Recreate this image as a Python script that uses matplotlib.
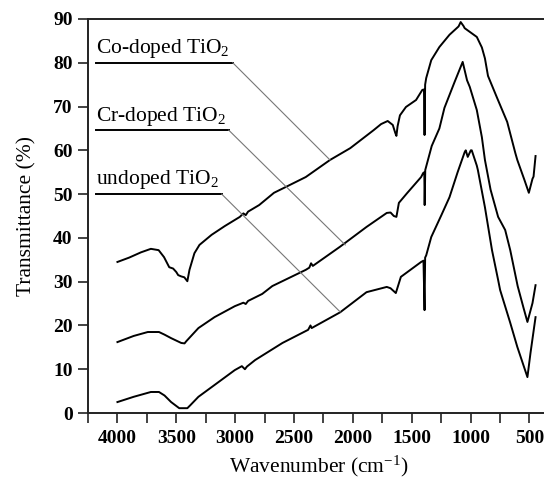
import matplotlib
matplotlib.use("Agg")
import matplotlib.pyplot as plt
from matplotlib.ticker import MultipleLocator

plt.rcParams['font.family'] = ['Liberation Serif', 'DejaVu Serif']
plt.rcParams['mathtext.fontset'] = 'custom'
plt.rcParams['mathtext.rm'] = 'Liberation Serif'
plt.rcParams['mathtext.it'] = 'Liberation Serif:italic'
plt.rcParams['mathtext.bf'] = 'Liberation Serif:bold'

# ---- data ----
co_x = [4000, 3900, 3800, 3716, 3650, 3604, 3560, 3527, 3500, 3484, 3458, 3432, 3406, 3388,
        3346, 3303, 3200, 3088, 2960, 2930, 2910, 2890, 2796, 2670, 2572, 2400, 2194, 2022,
        1824, 1760, 1704, 1661, 1640, 1630, 1620, 1600, 1549, 1463, 1410, 1396, 1391, 1386,
        1377, 1334, 1265, 1179, 1102, 1084, 1060, 1050, 947, 904, 878, 852, 775, 689, 620,
        603, 542, 505, 474, 465, 448]
co_y = [34.5, 35.5, 36.7, 37.5, 37.2, 35.6, 33.3, 33.0, 32.2, 31.5, 31.2, 31.0, 30.1, 32.7,
        36.5, 38.4, 40.7, 42.7, 44.8, 45.6, 45.2, 46.0, 47.5, 50.3, 51.6, 53.9, 57.8, 60.5,
        64.6, 66.0, 66.7, 65.8, 64.0, 63.3, 65.5, 68.0, 69.9, 71.5, 73.8, 73.9, 63.5, 75.0,
        76.5, 80.6, 83.6, 86.4, 88.3, 89.3, 88.4, 87.9, 85.9, 83.5, 81.0, 77.0, 72.0, 66.5, 59.4,
        57.8, 53.2, 50.3, 53.5, 54.0, 58.7]

cr_x = [4000, 3862, 3742, 3647, 3600, 3544, 3458, 3430, 3415, 3312, 3175, 3003, 2930, 2910,
        2890, 2770, 2684, 2400, 2370, 2355, 2340, 2108, 1884, 1712, 1680, 1652, 1630, 1609,
        1540, 1420, 1403, 1393, 1390, 1385, 1380, 1330, 1265, 1222, 1136, 1067, 1030, 1007,
        947, 904, 878, 830, 766, 706, 663, 600, 550, 517, 474, 448]
cr_y = [16.2, 17.6, 18.5, 18.5, 17.9, 17.1, 16.0, 15.9, 16.4, 19.4, 21.9, 24.4, 25.2, 24.9,
        25.6, 27.2, 29.0, 32.7, 33.2, 34.2, 33.6, 38.0, 42.5, 45.7, 45.8, 45.0, 44.8, 48.0,
        50.2, 53.9, 54.8, 55.0, 47.5, 55.5, 56.0, 61.0, 65.0, 69.7, 75.6, 80.2, 76.0, 74.5,
        69.2, 63.0, 57.8, 51.0, 44.8, 41.8, 37.2, 29.0, 24.0, 20.8, 25.1, 29.2]

un_x = [4000, 3862, 3716, 3647, 3600, 3544, 3475, 3406, 3380, 3312, 3175, 3003, 2943, 2917,
        2900, 2830, 2598, 2380, 2360, 2350, 2108, 1884, 1712, 1680, 1635, 1592, 1420, 1400,
        1391, 1386, 1377, 1334, 1248, 1179, 1110, 1050, 1041, 1024, 998, 990, 947, 938, 878,
        818, 766, 749, 663, 603, 517, 491, 448]
un_y = [2.5, 3.7, 4.8, 4.8, 4.0, 2.5, 1.1, 1.1, 1.8, 3.7, 6.4, 9.8, 10.7, 10.0,
        10.6, 12.1, 16.0, 19.0, 20.0, 19.4, 23.0, 27.6, 28.8, 28.5, 27.4, 31.1, 34.5, 34.8,
        23.5, 35.5, 36.0, 40.2, 45.2, 49.3, 55.0, 59.6, 60.0, 58.5, 60.0, 60.0, 56.5, 55.5, 47.0,
        37.2, 30.4, 28.1, 20.6, 15.1, 8.2, 13.7, 21.9]

labels = ['Co-doped TiO$_2$', 'Cr-doped TiO$_2$', 'undoped TiO$_2$']
label_y = [80.0, 64.6, 50.0]
label_x0 = 4181
label_x1 = [3020, 3054, 3114]
leader_end_x = [2194, 2065, 2108]
leader_end_y = [57.8, 38.4, 23.1]

x_ticks = [4000, 3500, 3000, 2500, 2000, 1500, 1000, 500]
y_ticks = [0, 10, 20, 30, 40, 50, 60, 70, 80, 90]

# ---- figure ----
fig = plt.figure(figsize=(5.44, 4.82), dpi=100)
ax = fig.add_axes([88/544, 1 - 413/482, 1 - 88/544 + 0.01, (413 - 19)/482])

for xs, ys in [(co_x, co_y), (cr_x, cr_y), (un_x, un_y)]:
    ax.plot(xs, ys, color='black', lw=1.4, solid_joinstyle='round')

for lab, ly, x1, ex, ey in zip(labels, label_y, label_x1, leader_end_x, leader_end_y):
    ax.plot([label_x0, x1], [ly, ly], color='black', lw=1.4)
    ax.plot([x1, ex], [ly, ey], color='#777777', lw=0.8)
    ax.text(label_x0, ly + 0.6, lab, fontsize=15.5, ha='left', va='bottom')

ax.set_xlim(4250, 330)
ax.set_ylim(0, 90)
ax.set_xticks(x_ticks)
ax.xaxis.set_minor_locator(MultipleLocator(250))
ax.set_yticks(y_ticks)

ax.spines['right'].set_visible(False)
for s in ['left', 'top', 'bottom']:
    ax.spines[s].set_linewidth(1.4)
    ax.spines[s].set_color('#222222')

ax.tick_params(axis='both', which='both', direction='out', length=7, width=1.2,
               color='#222222')
ax.tick_params(axis='x', which='major', pad=5)
ax.tick_params(axis='y', which='major', pad=4)
for t in ax.get_xticklabels() + ax.get_yticklabels():
    t.set_fontweight('bold')
    t.set_fontsize(14)

ax.set_xlabel('Wavenumber (cm$^{-1}$)', fontsize=15.5, labelpad=5)
ax.set_ylabel('Transmittance (%)', fontsize=15.5, labelpad=12)

fig.savefig('out.png', dpi=100)
